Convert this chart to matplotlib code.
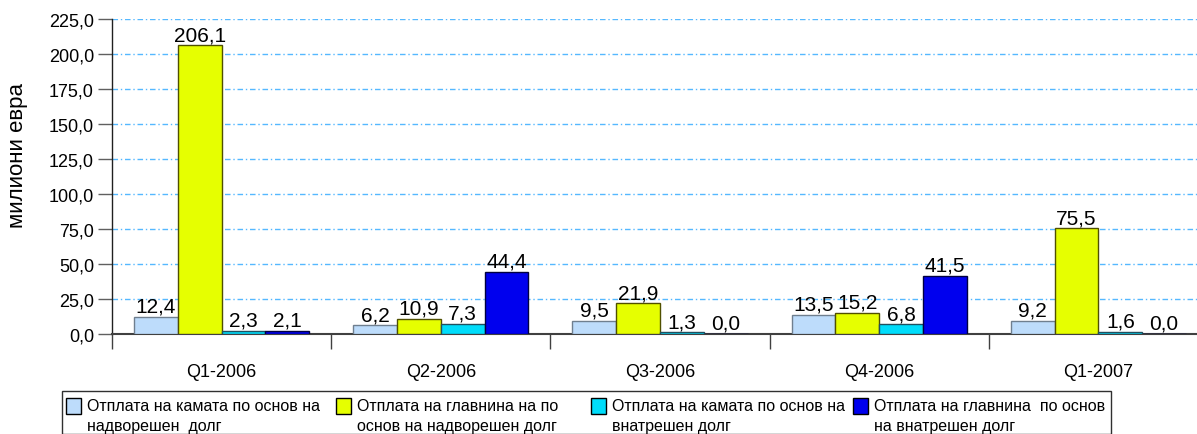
import matplotlib
matplotlib.use("Agg")
import matplotlib.pyplot as plt
import numpy as np
from matplotlib.patches import Rectangle
from matplotlib.ticker import FixedLocator, FuncFormatter

plt.rcParams['font.family'] = ['Liberation Sans', 'DejaVu Sans']

categories = ["Q1-2006", "Q2-2006", "Q3-2006", "Q4-2006", "Q1-2007"]
series_names = [
    "Отплата на камата по основ на\nнадворешен  долг",
    "Отплата на главнина на по\nоснов на надворешен долг",
    "Отплата на камата по основ на\nвнатрешен долг",
    "Отплата на главнина  по основ\nна внатрешен долг",
]
ext_interest = [12.4, 6.2, 9.5, 13.5, 9.2]
ext_principal = [206.1, 10.9, 21.9, 15.2, 75.5]
dom_interest = [2.3, 7.3, 1.3, 6.8, 1.6]
dom_principal = [2.1, 44.4, 0.0, 41.5, 0.0]
yticks = [0, 25, 50, 75, 100, 125, 150, 175, 200, 225]
ylabel = "милиони евра"

series = [ext_interest, ext_principal, dom_interest, dom_principal]
colors = ["#BDDCFB", "#E6FF00", "#00DCFA", "#0000EE"]
edges = ["#6F7F8F", "#505000", "#205060", "#000040"]

W, H = 1197, 435
fig = plt.figure(figsize=(W / 100, H / 100), dpi=100)
ax = fig.add_axes([112 / W, 1 - 335 / H, (1208 - 112) / W, (335 - 20) / H])

n = len(categories)
x = np.arange(n)
bw = 0.2
for j, (vals, c, ec) in enumerate(zip(series, colors, edges)):
    pos = x + 0.1 + bw * j + bw / 2
    ax.bar(pos, vals, width=bw, color=c, edgecolor=ec, linewidth=1.0, zorder=3)
    for p, v in zip(pos, vals):
        ax.text(p, v + 0.8, f"{v:.1f}".replace(".", ","), ha="center", va="bottom",
                fontsize=15, zorder=4)

ax.set_xlim(0, n)
ax.set_ylim(0, 225)
ax.xaxis.set_major_locator(FixedLocator(np.arange(n + 1)))
ax.xaxis.set_minor_locator(FixedLocator(x + 0.5))
ax.set_xticklabels([], minor=False)
ax.set_xticklabels(categories, minor=True, fontsize=13)
ax.tick_params(axis="x", which="major", length=11, width=1, color="#404040", direction="out")
ax.tick_params(axis="x", which="minor", length=0, pad=21)

ax.set_yticks(yticks)
ax.yaxis.set_major_formatter(FuncFormatter(lambda v, p: f"{v:.1f}".replace(".", ",")))
ax.tick_params(axis="y", length=10, width=1, color="#606060", labelsize=13, pad=3)

for y in yticks[1:]:
    ax.axhline(y, color="#55B8FF", linewidth=1.0, linestyle=(0, (4, 2, 1, 2)), zorder=1)

for s in ["top", "right"]:
    ax.spines[s].set_visible(False)
ax.spines["left"].set_color("#202020")
ax.spines["bottom"].set_color("#404040")
ax.spines["left"].set_linewidth(1.0)
ax.spines["bottom"].set_linewidth(1.5)

fig.text(18 / W, 1 - 155 / H, ylabel, rotation=90, ha="center", va="center", fontsize=16)

# legend box
lx0, lx1, ly0 = 62, 1111, 392
fig.patches.append(Rectangle((lx0 / W, 0), (lx1 - lx0) / W, 1 - ly0 / H,
                             transform=fig.transFigure, fill=False, edgecolor="#303030",
                             linewidth=1.0))
marker_x = [66, 336, 591, 853]
for mx, name, c, ec in zip(marker_x, series_names, colors, edges):
    fig.patches.append(Rectangle((mx / W, 1 - 415 / H), 15 / W, 16 / H,
                                 transform=fig.transFigure, facecolor=c, edgecolor="#000000",
                                 linewidth=1.0))
    fig.text((mx + 21) / W, 1 - 399 / H, name, ha="left", va="top", fontsize=11.5,
             linespacing=1.45)

fig.savefig("out.png", dpi=100)
